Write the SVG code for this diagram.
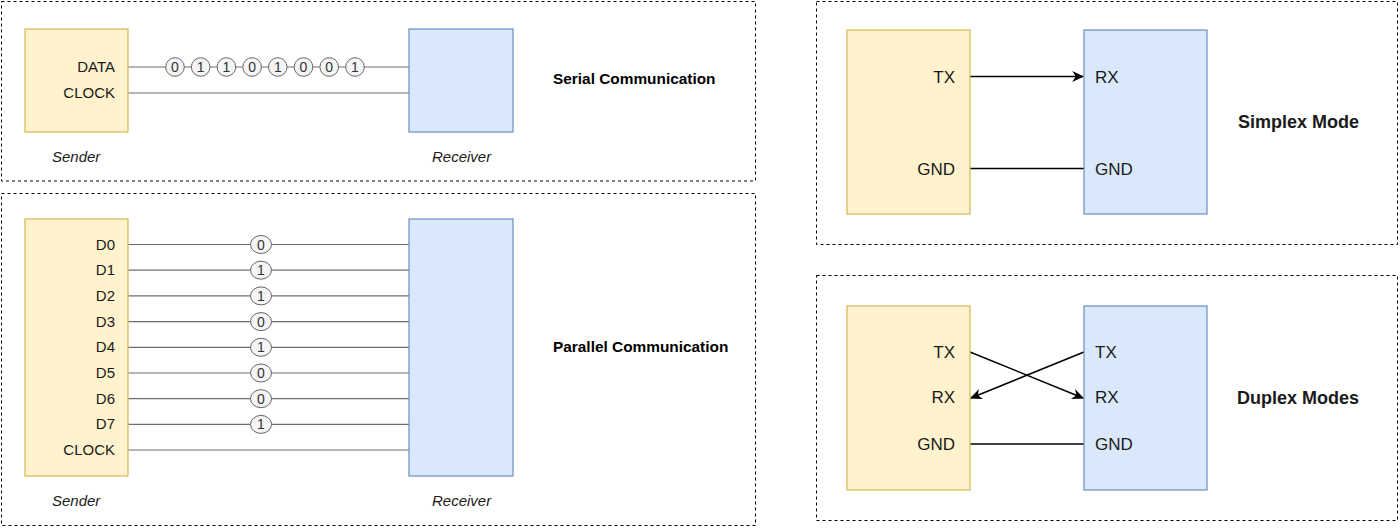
<svg xmlns="http://www.w3.org/2000/svg" width="1400" height="529" viewBox="0 0 1400 529">
<style>
.frame{fill:none;stroke:#000;stroke-width:1;stroke-dasharray:3 3}
.snd{fill:#fff2cc;stroke:#d6b656;stroke-width:1.2}
.rcv{fill:#dae8fc;stroke:#6c8ebf;stroke-width:1.2}
.lbl{font-family:"Liberation Sans",Arial,sans-serif;font-size:15px;fill:#1a1a1a}
.big{font-family:"Liberation Sans",Arial,sans-serif;font-size:17px;fill:#1a1a1a}
.it{font-family:"Liberation Sans",Arial,sans-serif;font-size:15px;font-style:italic;fill:#1a1a1a}
.ttl{font-family:"Liberation Sans",Arial,sans-serif;font-size:15.4px;font-weight:bold;fill:#000}
.ttl2{font-family:"Liberation Sans",Arial,sans-serif;font-size:18px;font-weight:bold;fill:#1a1a1a}
.wire{stroke:#6e6e6e;stroke-width:1.2;fill:none}
.bw{stroke:#000;stroke-width:1.5;fill:none}
.bit circle,.bit ellipse{fill:#f5f5f5;stroke:#666;stroke-width:1}
.bit text{font-family:"Liberation Sans",Arial,sans-serif;font-size:14px;fill:#333;text-anchor:middle}
</style>
<defs>
<marker id="arr" viewBox="0 0 10 10" refX="9" refY="5" markerWidth="12" markerHeight="12" markerUnits="userSpaceOnUse" orient="auto">
<path d="M0,0.5 L10,5 L0,9.5 L3,5 z" fill="#000"/>
</marker>
</defs>

<!-- frames -->
<rect class="frame" x="1.5" y="1.5" width="754" height="179.5"/>
<rect class="frame" x="1.5" y="193.5" width="754" height="332"/>
<rect class="frame" x="816.5" y="1.5" width="581" height="243"/>
<rect class="frame" x="816.5" y="275.5" width="581" height="245"/>

<!-- connectors -->
<g id="connectors">
  <line class="wire" x1="128" y1="67" x2="409" y2="67"/>
  <line class="wire" x1="128" y1="93" x2="409" y2="93"/>
  <line class="wire" x1="128" y1="244.5" x2="409" y2="244.5"/>
  <line class="wire" x1="128" y1="270.2" x2="409" y2="270.2"/>
  <line class="wire" x1="128" y1="295.9" x2="409" y2="295.9"/>
  <line class="wire" x1="128" y1="321.6" x2="409" y2="321.6"/>
  <line class="wire" x1="128" y1="347.3" x2="409" y2="347.3"/>
  <line class="wire" x1="128" y1="373" x2="409" y2="373"/>
  <line class="wire" x1="128" y1="398.7" x2="409" y2="398.7"/>
  <line class="wire" x1="128" y1="424.4" x2="409" y2="424.4"/>
  <line class="wire" x1="128" y1="450" x2="409" y2="450"/>
  <line class="bw" x1="970" y1="76.5" x2="1083" y2="76.5" marker-end="url(#arr)"/>
  <line class="bw" x1="970" y1="168.5" x2="1084" y2="168.5"/>
  <line class="bw" x1="970" y1="352" x2="1083" y2="398" marker-end="url(#arr)"/>
  <line class="bw" x1="1084" y1="352" x2="971" y2="398" marker-end="url(#arr)"/>
  <line class="bw" x1="970" y1="444" x2="1084" y2="444"/>
</g>

<!-- serial bits -->
<g id="serial-bits" class="bit">
  <circle cx="175" cy="67" r="9.3"/><text x="175" y="72">0</text>
  <circle cx="200.7" cy="67" r="9.3"/><text x="200.7" y="72">1</text>
  <circle cx="226.4" cy="67" r="9.3"/><text x="226.4" y="72">1</text>
  <circle cx="252.1" cy="67" r="9.3"/><text x="252.1" y="72">0</text>
  <circle cx="277.8" cy="67" r="9.3"/><text x="277.8" y="72">1</text>
  <circle cx="303.5" cy="67" r="9.3"/><text x="303.5" y="72">0</text>
  <circle cx="329.2" cy="67" r="9.3"/><text x="329.2" y="72">0</text>
  <circle cx="355" cy="67" r="9.3"/><text x="355" y="72">1</text>
</g>

<!-- parallel bits -->
<g id="parallel-bits" class="bit">
  <ellipse cx="261" cy="244.5" rx="10.5" ry="9"/><text x="261" y="249.5">0</text>
  <ellipse cx="261" cy="270.2" rx="10.5" ry="9"/><text x="261" y="275.2">1</text>
  <ellipse cx="261" cy="295.9" rx="10.5" ry="9"/><text x="261" y="300.9">1</text>
  <ellipse cx="261" cy="321.6" rx="10.5" ry="9"/><text x="261" y="326.6">0</text>
  <ellipse cx="261" cy="347.3" rx="10.5" ry="9"/><text x="261" y="352.3">1</text>
  <ellipse cx="261" cy="373" rx="10.5" ry="9"/><text x="261" y="378">0</text>
  <ellipse cx="261" cy="398.7" rx="10.5" ry="9"/><text x="261" y="403.7">0</text>
  <ellipse cx="261" cy="424.4" rx="10.5" ry="9"/><text x="261" y="429.4">1</text>
</g>

<!-- serial sender -->
<g id="serial-sender">
  <rect class="snd" x="25" y="29" width="103" height="103"/>
  <text class="lbl" x="115" y="72" text-anchor="end">DATA</text>
  <text class="lbl" x="115" y="98" text-anchor="end">CLOCK</text>
  <text class="it" x="52" y="162">Sender</text>
</g>
<g id="serial-receiver">
  <rect class="rcv" x="409" y="29" width="104" height="103"/>
  <text class="it" x="432" y="162">Receiver</text>
</g>
<text class="ttl" x="553" y="84">Serial Communication</text>

<!-- parallel sender -->
<g id="parallel-sender">
  <rect class="snd" x="25" y="219" width="103" height="257"/>
  <text class="lbl" x="115" y="249.5" text-anchor="end">D0</text>
  <text class="lbl" x="115" y="275.2" text-anchor="end">D1</text>
  <text class="lbl" x="115" y="300.9" text-anchor="end">D2</text>
  <text class="lbl" x="115" y="326.6" text-anchor="end">D3</text>
  <text class="lbl" x="115" y="352.3" text-anchor="end">D4</text>
  <text class="lbl" x="115" y="378" text-anchor="end">D5</text>
  <text class="lbl" x="115" y="403.7" text-anchor="end">D6</text>
  <text class="lbl" x="115" y="429.4" text-anchor="end">D7</text>
  <text class="lbl" x="115" y="455" text-anchor="end">CLOCK</text>
  <text class="it" x="52" y="506">Sender</text>
</g>
<g id="parallel-receiver">
  <rect class="rcv" x="409" y="219" width="104" height="257"/>
  <text class="it" x="432" y="506">Receiver</text>
</g>
<text class="ttl" x="553" y="352">Parallel Communication</text>

<!-- simplex -->
<g id="simplex-sender">
  <rect class="snd" x="847" y="30" width="123" height="184"/>
  <text class="big" x="955" y="82.5" text-anchor="end">TX</text>
  <text class="big" x="955" y="174.5" text-anchor="end">GND</text>
</g>
<g id="simplex-receiver">
  <rect class="rcv" x="1084" y="30" width="123" height="184"/>
  <text class="big" x="1095" y="82.5">RX</text>
  <text class="big" x="1095" y="174.5">GND</text>
</g>
<text class="ttl2" x="1238" y="127.5">Simplex Mode</text>

<!-- duplex -->
<g id="duplex-sender">
  <rect class="snd" x="847" y="306" width="123" height="184"/>
  <text class="big" x="955" y="358" text-anchor="end">TX</text>
  <text class="big" x="955" y="403" text-anchor="end">RX</text>
  <text class="big" x="955" y="450" text-anchor="end">GND</text>
</g>
<g id="duplex-receiver">
  <rect class="rcv" x="1084" y="306" width="123" height="184"/>
  <text class="big" x="1095" y="358">TX</text>
  <text class="big" x="1095" y="403">RX</text>
  <text class="big" x="1095" y="450">GND</text>
</g>
<text class="ttl2" x="1237" y="403.5">Duplex Modes</text>
</svg>
